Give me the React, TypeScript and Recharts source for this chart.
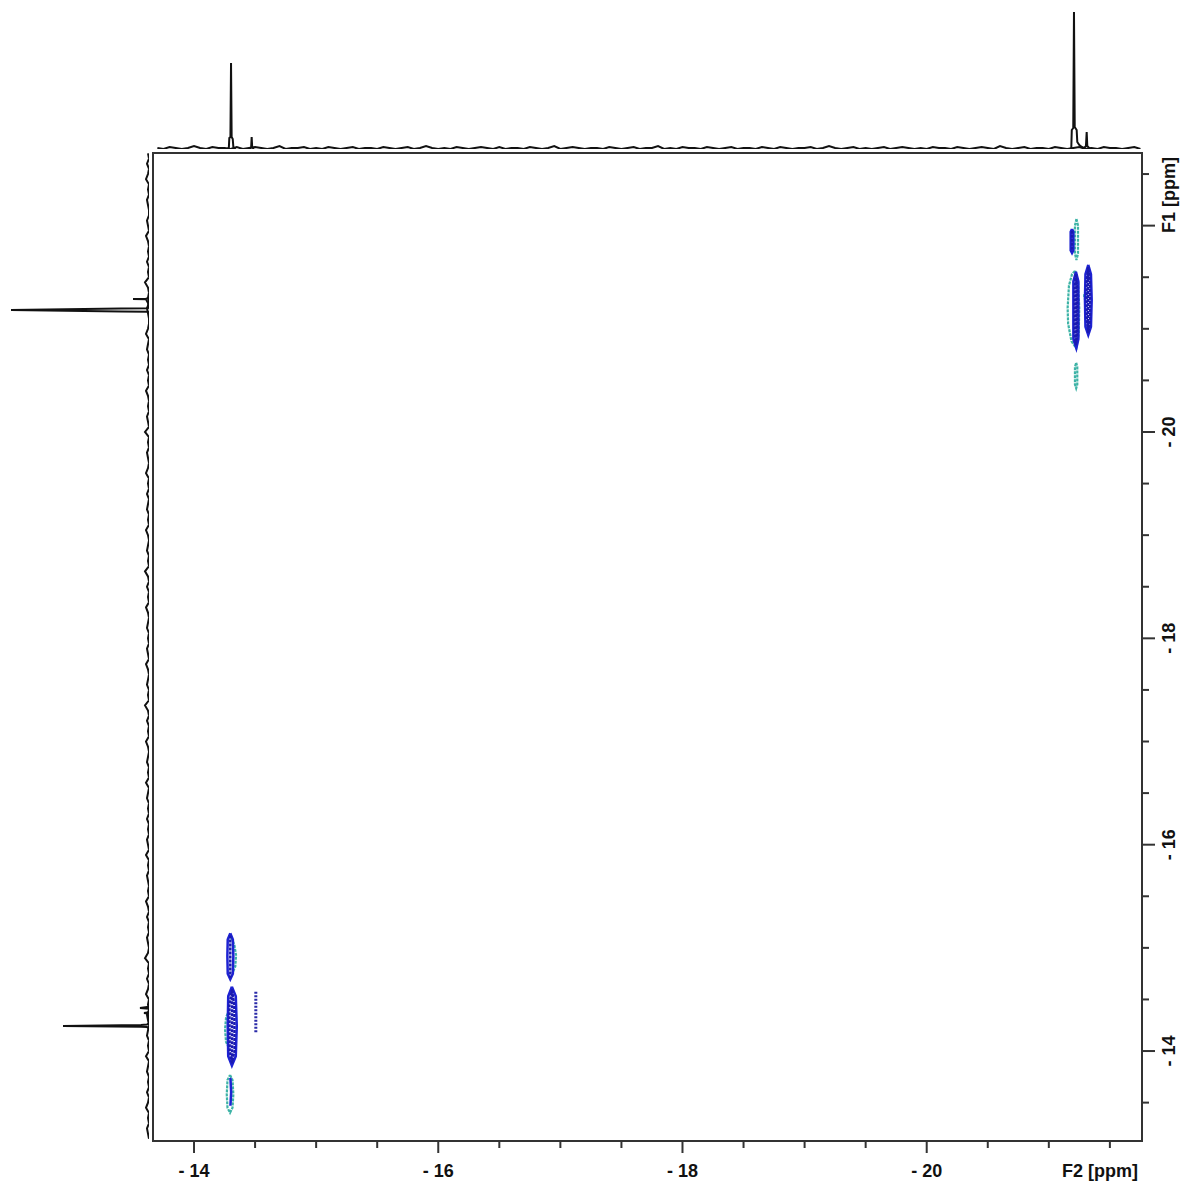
import React from "react";
import {
  ComposedChart,
  ScatterChart,
  Scatter,
  XAxis,
  YAxis,
  ReferenceArea,
} from "recharts";

// axis ranges (ppm) of the 2D plot
const f2Range: [number, number] = [-21.763, -13.664];
const f1Range: [number, number] = [-22.704, -13.128];

const f2Ticks = [-14, -14.5, -15, -15.5, -16, -16.5, -17, -17.5, -18, -18.5, -19, -19.5, -20, -20.5, -21, -21.5];
const f1Ticks = [-22.5, -22, -21.5, -21, -20.5, -20, -19.5, -19, -18.5, -18, -17.5, -17, -16.5, -16, -15.5, -15, -14.5, -14, -13.5];

// F2 projection (top): baseline noise every 0.05 ppm from -13.70
const topNoise = [
  1, 0, 2, 1, 0, 1, 3, 1, 0, 2,
  1, 1, 0, 2, 0, 1, 2, 1, 0, 1,
  3, 0, 1, 1, 2, 0, 1, 0, 2, 1,
  0, 1, 2, 0, 1, 1, 0, 2, 1, 0,
  1, 2, 0, 1, 3, 1, 0, 1, 0, 2,
  1, 0, 1, 2, 1, 0, 2, 0, 1, 1,
  0, 2, 1, 0, 1, 3, 0, 1, 2, 1,
  0, 1, 1, 0, 2, 1, 0, 1, 2, 0,
  1, 1, 3, 0, 1, 0, 2, 1, 1, 0,
  2, 1, 0, 1, 2, 0, 1, 1, 0, 2,
  1, 0, 2, 1, 0, 1, 1, 2, 0, 1,
  3, 1, 0, 1, 2, 0, 1, 0, 1, 2,
  0, 1, 2, 1, 0, 1, 0, 2, 1, 1,
  0, 2, 1, 0, 1, 2, 1, 0, 3, 1,
  0, 1, 2, 0, 1, 1, 0, 2, 1, 0,
  1, 2, 0, 1, 0, 2, 1, 1, 0, 1,
  2, 0,
];
// [F2 ppm, intensity]
const topPeak14 = [[-14.27, 0], [-14.285, 1], [-14.289, 11], [-14.298, 12], [-14.303, 86], [-14.308, 12], [-14.317, 10], [-14.322, 2], [-14.34, 0]];
const topPeak145 = [[-14.455, 0], [-14.468, 2], [-14.472, 12], [-14.476, 2], [-14.49, 0]];
const topPeak21 = [[-21.17, 0], [-21.184, 1], [-21.188, 19], [-21.2, 21], [-21.206, 137], [-21.212, 22], [-21.228, 19], [-21.233, 7], [-21.25, 4], [-21.27, 2], [-21.29, 1], [-21.304, 3], [-21.31, 17], [-21.315, 3], [-21.33, 1], [-21.35, 0]];

// F1 projection (left): baseline noise every 0.05 ppm from -22.70
const leftNoise = [
  1, 0, 2, 0, 1, 3, 0, 1, 0, 2,
  1, 0, 0, 2, 1, 0, 3, 1, 0, 1,
  0, 2, 0, 1, 0, 4, 1, 0, 1, 0,
  2, 1, 0, 0, 1, 3, 0, 1, 2, 0,
  1, 0, 2, 0, 1, 0, 3, 1, 0, 1,
  0, 2, 1, 0, 4, 0, 1, 0, 2, 1,
  0, 1, 3, 0, 1, 0, 2, 0, 1, 2,
  0, 1, 0, 3, 1, 0, 1, 2, 0, 1,
  0, 4, 1, 0, 2, 0, 1, 0, 3, 1,
  0, 1, 2, 0, 1, 0, 2, 1, 0, 3,
  1, 0, 1, 2, 0, 1, 0, 4, 1, 0,
  2, 0, 1, 0, 3, 1, 0, 1, 2, 0,
  1, 0, 3, 0, 1, 2, 0, 1, 0, 2,
  0, 1, 0, 2, 1, 0, 3, 0, 1, 0,
  2, 1, 0, 1, 0, 3, 1, 0, 2, 0,
  1, 0, 2, 1, 0, 1, 4, 0, 1, 0,
  2, 0, 1, 3, 0, 1, 0, 2, 1, 0,
  1, 2, 0, 1, 0, 3, 0, 1, 2, 0,
  1, 0, 2, 0, 1, 3, 0, 1, 0, 2,
  1, 0,
];
// [F1 ppm, intensity]
const leftPeak21 = [[-21.3, 0], [-21.291, 3], [-21.289, 16], [-21.287, 3], [-21.25, 1], [-21.21, 0], [-21.2, 1], [-21.198, 28], [-21.183, 138], [-21.168, 28], [-21.166, 1], [-21.15, 0]];
const leftPeak14 = [[-14.43, 0], [-14.417, 9], [-14.41, 0], [-14.375, 0], [-14.369, 5], [-14.36, 0], [-14.27, 0], [-14.256, 2], [-14.252, 8], [-14.243, 86], [-14.236, 8], [-14.232, 2], [-14.22, 0]];

// 2D contours, [F2 ppm, F1 ppm] outlines
const contoursHigh = [
  [[-21.19, -21.968], [-21.201, -21.94], [-21.201, -21.76], [-21.19, -21.735], [-21.179, -21.76], [-21.179, -21.94], [-21.19, -21.968]],
  [[-21.222, -21.553], [-21.242, -21.46], [-21.242, -20.9], [-21.225, -20.811], [-21.201, -20.9], [-21.201, -21.46], [-21.222, -21.553]],
  [[-21.323, -21.619], [-21.345, -21.53], [-21.351, -21.28], [-21.345, -21.02], [-21.323, -20.94], [-21.3, -21.02], [-21.296, -21.28], [-21.3, -21.53], [-21.323, -21.619]],
  [[-14.297, -15.141], [-14.318, -15.08], [-14.322, -14.92], [-14.318, -14.75], [-14.297, -14.695], [-14.276, -14.75], [-14.273, -14.92], [-14.276, -15.08], [-14.297, -15.141]],
  [[-14.31, -14.624], [-14.342, -14.53], [-14.35, -14.24], [-14.342, -13.95], [-14.31, -13.858], [-14.28, -13.95], [-14.276, -14.24], [-14.28, -14.53], [-14.31, -14.624]],
  [[-14.298, -13.74], [-14.304, -13.6], [-14.298, -13.47]],
];
// inner (stronger) levels
const contoursCore = [
  [[-21.19, -21.95], [-21.19, -21.75]],
  [[-21.222, -21.5], [-21.232, -21.4], [-21.232, -20.95], [-21.222, -20.86], [-21.211, -20.95], [-21.211, -21.4], [-21.222, -21.5]],
  [[-21.222, -21.53], [-21.222, -20.83]],
  [[-21.323, -21.58], [-21.336, -21.45], [-21.338, -21.1], [-21.323, -20.97], [-21.31, -21.1], [-21.309, -21.45], [-21.323, -21.58]],
  [[-21.323, -21.6], [-21.323, -20.96]],
  [[-14.297, -15.12], [-14.297, -14.71]],
  [[-14.31, -14.59], [-14.33, -14.45], [-14.332, -14.0], [-14.31, -13.89], [-14.292, -14.0], [-14.29, -14.45], [-14.31, -14.59]],
  [[-14.312, -14.6], [-14.312, -13.88]],
];
const contoursLow = [
  [[-21.226, -22.065], [-21.239, -22.0], [-21.239, -21.73], [-21.226, -21.667], [-21.214, -21.73], [-21.214, -22.0], [-21.226, -22.065]],
  [[-21.215, -21.563], [-21.24, -21.45], [-21.249, -21.2], [-21.245, -20.95], [-21.225, -20.811], [-21.185, -20.88], [-21.158, -21.05], [-21.154, -21.2], [-21.165, -21.42], [-21.19, -21.53], [-21.215, -21.563]],
  [[-21.3, -21.36], [-21.31, -21.33], [-21.31, -21.3], [-21.3, -21.279], [-21.29, -21.3], [-21.29, -21.33], [-21.3, -21.36]],
  [[-21.224, -20.672], [-21.233, -20.63], [-21.233, -20.46], [-21.224, -20.424], [-21.214, -20.46], [-21.214, -20.63], [-21.224, -20.672]],
  [[-14.305, -15.1], [-14.33, -15.03], [-14.344, -14.93], [-14.338, -14.82], [-14.315, -14.756]],
  [[-14.285, -14.4], [-14.262, -14.32], [-14.254, -14.21], [-14.262, -14.09], [-14.285, -14.03]],
  [[-14.295, -13.768], [-14.315, -13.72], [-14.322, -13.58], [-14.315, -13.45], [-14.295, -13.402], [-14.274, -13.45], [-14.268, -13.58], [-14.274, -13.72], [-14.295, -13.768]],
];
const contourWeak = [[-14.506, -14.575], [-14.506, -14.178]];

const FONT = "'Liberation Sans', Arial, sans-serif";
const AXIS = "#333";
const BLUE = "#1d22d2";
const NAVY = "#1a1ab0";
const TEAL = "#3db3a6";

const noDot = () => <g />;

const isMajor = (v: number) => Math.abs(v - Math.round(v)) < 1e-6 && Math.round(v) % 2 === 0;

const XTick = (props: any) => {
  const { x, y, payload } = props;
  const major = isMajor(payload.value);
  return (
    <g>
      <line x1={x} y1={y} x2={x} y2={y + (major ? 12 : 7)} stroke={AXIS} strokeWidth={2} />
      {major && (
        <text x={x} y={y + 36} textAnchor="middle" fontFamily={FONT} fontWeight="bold" fontSize={18} fill="#111">
          {"- " + Math.abs(payload.value)}
        </text>
      )}
    </g>
  );
};

const YTick = (props: any) => {
  const { x, y, payload } = props;
  const major = isMajor(payload.value);
  const showLabel = major && payload.value > -21;
  return (
    <g>
      <line x1={x} y1={y} x2={x + (major ? 13 : 7)} y2={y} stroke={AXIS} strokeWidth={2} />
      {showLabel && (
        <text
          transform={`translate(${x + 33},${y}) rotate(-90)`}
          textAnchor="middle"
          fontFamily={FONT}
          fontWeight="bold"
          fontSize={18}
          fill="#111"
        >
          {"- " + Math.abs(payload.value)}
        </text>
      )}
    </g>
  );
};

const toF2 = (pts: number[][]) => pts.map(([f2, f1]) => ({ f2, f1 }));

export default function App() {
  const topBase = topNoise.map((v, k) => ({ f2: -13.7 - k * 0.05, i: v }));
  const leftBase = leftNoise.map((v, k) => ({ f1: -22.7 + k * 0.05, i: v }));
  const topPeaks = [topPeak14, topPeak145, topPeak21].map((p) => p.map(([f2, i]) => ({ f2, i })));
  const leftPeaks = [leftPeak21, leftPeak14].map((p) => p.map(([f1, i]) => ({ f1, i })));

  return (
    <div style={{ position: "absolute", left: 0, top: 0, width: 1185, height: 1186, background: "#fff" }}>
      {/* 2D plot */}
      <div style={{ position: "absolute", left: 0, top: 0 }}>
        <ComposedChart width={1185} height={1186} margin={{ top: 153, left: 153, right: 0, bottom: 0 }}>
          <XAxis
            type="number"
            dataKey="f2"
            domain={f2Range}
            reversed
            allowDataOverflow
            ticks={f2Ticks}
            interval={0}
            height={45}
            tickSize={0}
            tickMargin={0}
            axisLine={false}
            tick={<XTick />}
          />
          <YAxis
            type="number"
            dataKey="f1"
            orientation="right"
            domain={f1Range}
            reversed
            allowDataOverflow
            ticks={f1Ticks}
            interval={0}
            width={43}
            tickSize={0}
            tickMargin={0}
            axisLine={false}
            tick={<YTick />}
          />
          <ReferenceArea
            x1={f2Range[0]}
            x2={f2Range[1]}
            y1={f1Range[0]}
            y2={f1Range[1]}
            fill="none"
            stroke={AXIS}
            strokeWidth={2}
            ifOverflow="visible"
          />
          {contoursLow.map((c, k) => (
            <Scatter
              key={"low" + k}
              data={toF2(c)}
              line={{ stroke: TEAL, strokeWidth: 2.2, strokeDasharray: "3 1" }}
              lineType="joint"
              shape={noDot}
              isAnimationActive={false}
            />
          ))}
          {contoursHigh.map((c, k) => (
            <Scatter
              key={"high" + k}
              data={toF2(c)}
              line={{ stroke: BLUE, strokeWidth: 2.5 }}
              lineType="joint"
              shape={noDot}
              isAnimationActive={false}
            />
          ))}
          {contoursCore.map((c, k) => (
            <Scatter
              key={"core" + k}
              data={toF2(c)}
              line={{ stroke: NAVY, strokeWidth: 2.5, strokeDasharray: "3 1" }}
              lineType="joint"
              shape={noDot}
              isAnimationActive={false}
            />
          ))}
          <Scatter
            data={toF2(contourWeak)}
            line={{ stroke: "#2a2aa8", strokeWidth: 3, strokeDasharray: "2 1.5" }}
            lineType="joint"
            shape={noDot}
            isAnimationActive={false}
          />
        </ComposedChart>
      </div>

      {/* F2 projection */}
      <div style={{ position: "absolute", left: 0, top: 0 }}>
        <ScatterChart width={1185} height={153} margin={{ top: 0, left: 153, right: 43, bottom: 4 }}>
          <XAxis type="number" dataKey="f2" domain={f2Range} reversed allowDataOverflow hide />
          <YAxis type="number" dataKey="i" domain={[0, 149]} allowDataOverflow hide />
          <Scatter data={topBase} line={{ stroke: "#111", strokeWidth: 2 }} lineType="joint" shape={noDot} isAnimationActive={false} />
          {topPeaks.map((p, k) => (
            <Scatter key={k} data={p} line={{ stroke: "#111", strokeWidth: 2 }} lineType="joint" shape={noDot} isAnimationActive={false} />
          ))}
        </ScatterChart>
      </div>

      {/* F1 projection */}
      <div style={{ position: "absolute", left: 0, top: 0 }}>
        <ScatterChart width={153} height={1186} margin={{ top: 153, left: 0, right: 4, bottom: 45 }}>
          <XAxis type="number" dataKey="i" domain={[0, 149]} reversed allowDataOverflow hide />
          <YAxis type="number" dataKey="f1" domain={f1Range} reversed allowDataOverflow hide />
          <Scatter data={leftBase} line={{ stroke: "#111", strokeWidth: 2 }} lineType="joint" shape={noDot} isAnimationActive={false} />
          {leftPeaks.map((p, k) => (
            <Scatter key={k} data={p} line={{ stroke: "#111", strokeWidth: 2 }} lineType="joint" shape={noDot} isAnimationActive={false} />
          ))}
        </ScatterChart>
      </div>

      {/* axis titles */}
      <svg width={1185} height={1186} style={{ position: "absolute", left: 0, top: 0, pointerEvents: "none" }}>
        <text x={1138} y={1177} textAnchor="end" fontFamily={FONT} fontWeight="bold" fontSize={18} fill="#111">
          F2 [ppm]
        </text>
        <text
          transform="translate(1175,157) rotate(-90)"
          textAnchor="end"
          fontFamily={FONT}
          fontWeight="bold"
          fontSize={18}
          fill="#111"
        >
          F1 [ppm]
        </text>
      </svg>
    </div>
  );
}
